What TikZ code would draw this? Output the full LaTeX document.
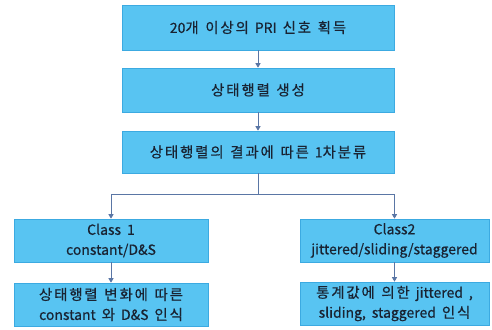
\documentclass[tikz,border=0pt]{standalone}
\usepackage{fontspec}
\setmainfont[FakeBold=0.5,WordSpace=1.9]{Noto Sans CJK KR}
\newfontfamily\kr[FakeBold=0.5,LetterSpace=13,Scale=1.03,WordSpace=1.3]{Noto Sans CJK KR}
\usetikzlibrary{arrows.meta}
\definecolor{boxfill}{RGB}{88,196,242}
\definecolor{boxline}{RGB}{60,170,225}
\definecolor{arr}{RGB}{90,118,165}
\definecolor{txt}{RGB}{25,35,50}
\tikzset{
  flowbox/.style={draw=boxline, line width=0.6pt, fill=boxfill, inner sep=0pt, align=center,
    font=\fontsize{14}{20}\selectfont, text=txt},
  flowarrow/.style={draw=arr, line width=0.9pt, -{Triangle[width=5pt,length=4.5pt]}},
  flowline/.style={draw=arr, line width=0.9pt}
}
\begin{document}
\begin{tikzpicture}[x=1pt,y=-1pt]
\useasboundingbox (0,0) rectangle (492,329);
\node[flowbox, minimum width=272pt, minimum height=45pt] (b1) at (258,27.5) {20{\kr 개 이상의} PRI {\kr 신호 획득}};
\node[flowbox, minimum width=272pt, minimum height=44pt] (b2) at (258,90) {\kr 상태행렬 생성};
\node[flowbox, minimum width=272pt, minimum height=42pt] (b3) at (258,152) {{\kr 상태행렬의 결과에 따른} 1{\kr 차분류}};
\node[flowbox, minimum width=194pt, minimum height=43pt] (c1) at (111,240.5) {Class 1\\constant/D\&S};
\node[flowbox, minimum width=194pt, minimum height=43pt] (d1) at (111,304.5) {{\kr 상태행렬 변화에 따른}\\constant {\kr 와} D\&S {\kr 인식}};
\node[flowbox, minimum width=189pt, minimum height=43pt] (c2) at (394.5,240.5) {Class2\\jittered/sliding/staggered};
\node[flowbox, minimum width=189pt, minimum height=43pt] (d2) at (394.5,303.5) {{\kr 통계값에 의한} jittered ,\\sliding, staggered {\kr 인식}};
\coordinate (j) at (258,194);
\draw[flowarrow] (b1) -- (b2);
\draw[flowarrow] (b2) -- (b3);
\draw[flowline] (b3.south) -- (j);
\draw[flowarrow] (j) -| (c1.north);
\draw[flowarrow] (j) -| (c2.north);
\draw[flowarrow] (c1) -- (d1);
\draw[flowarrow] (c2) -- (d2);
\end{tikzpicture}
\end{document}
